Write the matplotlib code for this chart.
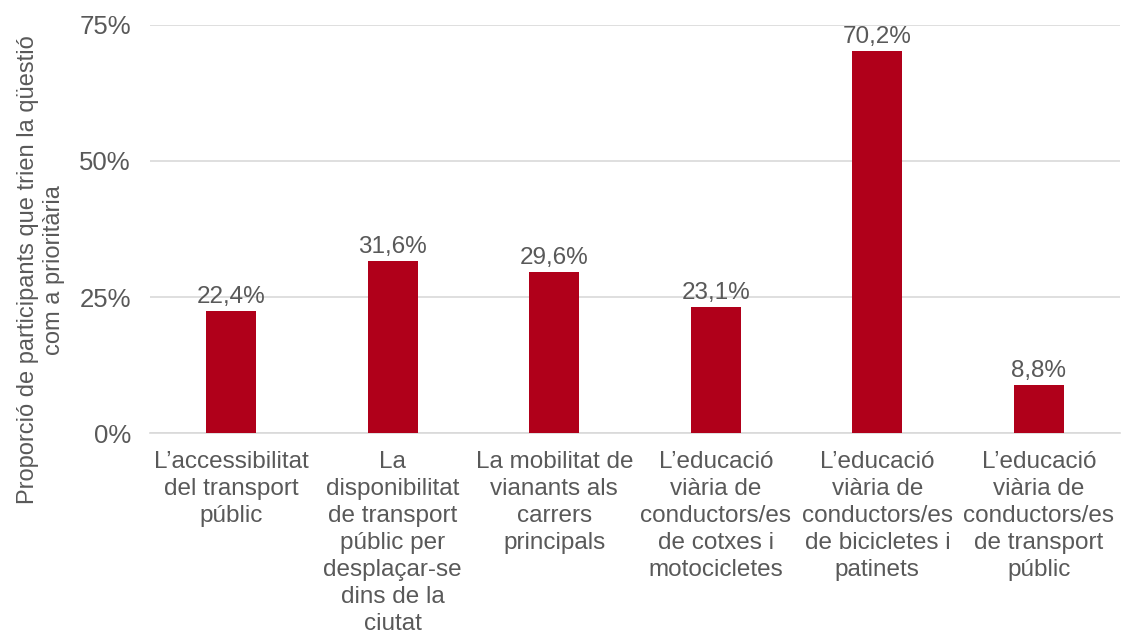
import matplotlib
matplotlib.use("Agg")
import matplotlib.pyplot as plt
from matplotlib.ticker import FuncFormatter

categories = [
    "L\u2019accessibilitat\ndel transport\npúblic",
    "La\ndisponibilitat\nde transport\npúblic per\ndesplaçar-se\ndins de la\nciutat",
    "La mobilitat de\nvianants als\ncarrers\nprincipals",
    "L\u2019educació\nviària de\nconductors/es\nde cotxes i\nmotocicletes",
    "L\u2019educació\nviària de\nconductors/es\nde bicicletes i\npatinets",
    "L\u2019educació\nviària de\nconductors/es\nde transport\npúblic",
]
values = [22.4, 31.6, 29.6, 23.1, 70.2, 8.8]
y_ticks = [0, 25, 50, 75]
y_label = "Proporció de participants que trien la qüestió\ncom a prioritària"

plt.rcParams["font.family"] = ["Liberation Sans", "DejaVu Sans"]
text_color = "#595959"
bar_color = "#B0001A"

fig = plt.figure(figsize=(11.23, 6.37), dpi=100)
ax = fig.add_axes([0.134, 0.32, 0.863, 0.641])

x = list(range(len(values)))
bars = ax.bar(x, values, width=0.31, color=bar_color, zorder=3)

for bar, val in zip(bars, values):
    ax.text(bar.get_x() + bar.get_width() / 2, bar.get_height() + 0.6,
            f"{val:.1f}%".replace(".", ","), ha="center", va="bottom",
            fontsize=17.5, color=text_color)

ax.set_xlim(-0.5, len(values) - 0.5)
ax.set_ylim(0, 75)
ax.set_yticks(y_ticks)
ax.yaxis.set_major_formatter(FuncFormatter(lambda v, p: f"{v:.0f}%"))
ax.set_xticks(x)
ax.set_xticklabels(categories, fontsize=17.5, color=text_color, linespacing=1.29)
ax.tick_params(axis="y", labelsize=18.5, labelcolor=text_color, length=0, pad=14)
ax.tick_params(axis="x", length=0, pad=13)
ax.yaxis.grid(True, color="#D9D9D9", linewidth=1.2, zorder=0)
ax.set_axisbelow(True)
for s in ["top", "right", "left"]:
    ax.spines[s].set_visible(False)
ax.spines["bottom"].set_color("#D9D9D9")
ax.spines["bottom"].set_linewidth(1.2)

ax.set_ylabel(y_label, fontsize=17, color=text_color, linespacing=1.25)
ax.yaxis.set_label_coords(-0.088, 0.40)

fig.savefig("out.png", dpi=100)
